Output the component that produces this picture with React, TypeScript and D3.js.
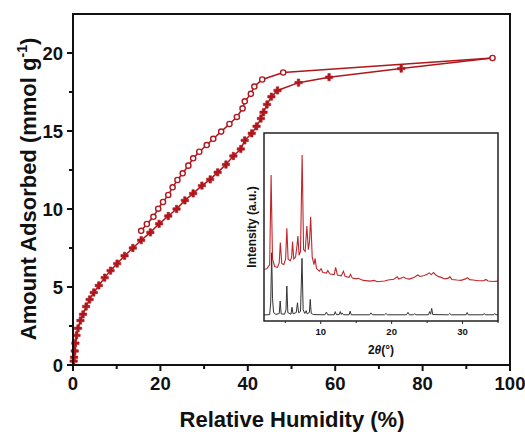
import React from "react";
import * as d3 from "d3";

// ---- Water sorption isotherm ----
const adsRH = [0.15, 0.25, 0.4, 0.55, 0.8, 1.15, 1.7, 2.3, 3.0, 3.8, 4.75, 5.9, 7.25, 8.6, 10.1, 11.8, 13.7, 15.6, 17.7, 19.7, 21.8, 23.7, 25.6, 27.5, 29.5, 31.4, 33.1, 35.0, 36.7, 38.4, 39.3, 40.9, 42.0, 43.0, 43.6, 44.4, 45.4, 46.8, 51.6, 58.6, 75.1, 96.0];
const adsAmt = [0.25, 0.5, 0.9, 1.4, 1.9, 2.35, 2.85, 3.25, 3.75, 4.2, 4.65, 5.1, 5.6, 6.05, 6.5, 7.0, 7.5, 8.0, 8.5, 9.05, 9.55, 10.0, 10.55, 11.0, 11.5, 11.9, 12.35, 12.85, 13.4, 13.85, 14.4, 14.85, 15.3, 15.8, 16.2, 16.7, 17.2, 17.6, 18.1, 18.45, 19.0, 19.68];

const desRH = [96.0, 48.1, 43.3, 41.5, 40.7, 39.3, 38.8, 37.5, 35.8, 33.9, 32.1, 30.6, 28.9, 27.5, 26.4, 25.1, 23.9, 22.8, 21.8, 20.6, 19.5, 18.4, 16.9, 15.6];
const desAmt = [19.68, 18.75, 18.3, 17.85, 17.38, 16.9, 16.45, 15.9, 15.45, 14.96, 14.5, 14.1, 13.67, 13.25, 12.78, 12.29, 11.86, 11.39, 10.9, 10.45, 10.02, 9.5, 9.04, 8.6];

const xTicks = [0, 20, 40, 60, 80, 100];
const xMinor = [10, 30, 50, 70, 90];
const yTicks = [0, 5, 10, 15, 20];
const yMinor = [2.5, 7.5, 12.5, 17.5];

// ---- Inset PXRD ----
const redTheta = [2.0, 2.4, 2.8, 3.0, 3.2, 3.5, 3.9, 4.15, 4.3, 4.5, 4.8, 5.05, 5.22, 5.4, 5.7, 5.9, 6.02, 6.2, 6.45, 6.65, 6.78, 6.95, 7.15, 7.38, 7.58, 7.8, 7.95, 8.05, 8.25, 8.42, 8.58, 8.8, 9.05, 9.2, 9.4, 9.8, 10.05, 10.3, 10.8, 11.0, 11.3, 11.9, 12.1, 12.35, 12.9, 13.2, 13.45, 14.0, 14.2, 14.45, 15.0, 15.3, 16.0, 17.0, 17.5, 18.0, 19.0, 19.5, 20.3, 20.8, 21.0, 21.7, 22.0, 22.5, 23.2, 23.7, 24.0, 24.6, 25.0, 25.3, 25.6, 25.9, 26.2, 26.6, 27.0, 27.5, 28.0, 28.2, 28.5, 29.2, 29.8, 30.4, 30.7, 31.0, 31.5, 32.2, 33.0, 33.3, 33.6, 34.3, 35.0];
const redInt = [27.5, 27.8, 30, 77.7, 33, 29, 28.5, 31, 41.7, 30.5, 30, 33, 49.3, 33, 32, 34, 42.2, 33, 34, 40, 45.2, 35, 37, 88.3, 38, 37, 45, 50.5, 38, 42, 55.5, 34, 30, 33.3, 28, 26.5, 27.8, 25.8, 25.5, 26.8, 25, 24.7, 28.5, 24.5, 24, 26.5, 23.6, 23.2, 24.8, 22.8, 22.4, 22.7, 21.6, 21.2, 21.6, 20.9, 21.3, 21.8, 22.2, 23.5, 22.3, 23.4, 22.6, 22.3, 23.3, 24.5, 23.7, 24.2, 24.8, 25.6, 24.7, 25.8, 24.6, 23.6, 23.2, 22.4, 22.8, 23.6, 22.1, 21.8, 21.6, 22.4, 23.1, 22.0, 21.8, 21.4, 21.5, 22.1, 21.3, 21.0, 21.2];

const blackTheta = [2.0, 2.8, 2.95, 3.08, 3.2, 3.35, 3.7, 4.15, 4.28, 4.42, 4.9, 5.1, 5.22, 5.36, 5.8, 5.95, 6.1, 6.55, 6.72, 6.88, 7.15, 7.36, 7.52, 7.75, 7.95, 8.08, 8.4, 8.52, 8.66, 9.0, 10.6, 10.8, 11.0, 11.9, 12.05, 12.2, 12.6, 12.75, 12.9, 13.0, 13.2, 14.0, 14.15, 14.3, 16.9, 17.1, 17.3, 19.0, 19.2, 19.4, 22.1, 22.3, 22.5, 23.1, 23.25, 23.4, 25.2, 25.35, 25.5, 25.65, 25.8, 28.0, 28.2, 28.4, 30.5, 30.65, 30.8, 32.9, 33.05, 33.2, 34.4, 34.55, 34.7, 35.0];
const blackInt = [3.2, 3.4, 10, 36.3, 12, 4.5, 3.5, 4, 10.6, 3.8, 3.6, 6, 18.6, 4.5, 3.6, 7.3, 3.8, 4.5, 9.7, 4.4, 5, 33.3, 6, 4, 5.5, 3.8, 4.5, 11.5, 4, 3.4, 3.3, 4.7, 3.3, 3.3, 5.0, 3.4, 3.4, 5, 3.5, 4.3, 3.3, 3.3, 5.2, 3.3, 3.3, 4.3, 3.3, 3.3, 4.0, 3.3, 3.3, 4.6, 3.3, 3.3, 3.9, 3.3, 3.3, 5, 3.6, 6.7, 3.4, 3.3, 4.0, 3.3, 3.3, 4.5, 3.3, 3.3, 4.0, 3.3, 3.3, 4.0, 3.3, 3.3];

const insetTicks = [10, 20, 30];
const insetMinor = [5, 15, 25, 35];

const RED = "#b0161c";
const FONT = "'Liberation Sans', Arial, sans-serif";

export default function App() {
  const x = d3.scaleLinear().domain([0, 100]).range([73, 510]);
  const y = d3.scaleLinear().domain([0, 22.5]).range([365, 14]);

  const ix = d3.scaleLinear().domain([2, 35]).range([264, 498]);
  const iy = d3.scaleLinear().domain([0, 100]).range([321, 133]);

  const line = d3.line<[number, number]>().x((d) => x(d[0])).y((d) => y(d[1]));
  const ads: [number, number][] = adsRH.map((r, i) => [r, adsAmt[i]]);
  const des: [number, number][] = desRH.map((r, i) => [r, desAmt[i]]);

  const iline = d3.line<[number, number]>().x((d) => ix(d[0])).y((d) => iy(d[1]));
  const red: [number, number][] = redTheta.map((t, i) => [t, redInt[i]]);
  const black: [number, number][] = blackTheta.map((t, i) => [t, blackInt[i]]);

  const cross = d3.symbol().type(d3.symbolCross).size(30)()!;

  return (
    <svg width={525} height={432} style={{ position: "absolute", left: 0, top: 0, background: "#fff" }} fontFamily={FONT}>
      <rect width={525} height={432} fill="#fff" />
      {/* main curves */}
      <path d={line(ads)!} fill="none" stroke={RED} strokeWidth={1.5} />
      <path d={line(des)!} fill="none" stroke={RED} strokeWidth={1.5} />
      {ads.slice(0, ads.length - 1).map((d, i) => (
        <path key={"a" + i} d={cross} transform={`translate(${x(d[0])},${y(d[1])})`} fill={RED} stroke={RED} strokeWidth={0.6} />
      ))}
      {des.map((d, i) => (
        <circle key={"d" + i} cx={x(d[0])} cy={y(d[1])} r={2.6} fill="#fff" stroke={RED} strokeWidth={1.4} />
      ))}

      {/* main frame */}
      <rect x={73} y={14} width={437} height={351} fill="none" stroke="#111" strokeWidth={2} />
      {xTicks.map((t) => (
        <g key={"xt" + t}>
          <line x1={x(t)} x2={x(t)} y1={365} y2={371} stroke="#111" strokeWidth={2} />
          <text x={x(t)} y={390} textAnchor="middle" fontSize={18.5} fontWeight="bold" fill="#111">{t}</text>
        </g>
      ))}
      {xMinor.map((t) => (
        <line key={"xm" + t} x1={x(t)} x2={x(t)} y1={365} y2={369} stroke="#111" strokeWidth={2} />
      ))}
      {yTicks.map((t) => (
        <g key={"yt" + t}>
          <line x1={73} x2={67} y1={y(t)} y2={y(t)} stroke="#111" strokeWidth={2} />
          <text x={63} y={y(t) + 6.5} textAnchor="end" fontSize={18.5} fontWeight="bold" fill="#111">{t}</text>
        </g>
      ))}
      {yMinor.map((t) => (
        <line key={"ym" + t} x1={73} x2={69} y1={y(t)} y2={y(t)} stroke="#111" strokeWidth={2} />
      ))}
      <text x={292} y={427} textAnchor="middle" fontSize={22} fontWeight="bold" fill="#111">Relative Humidity (%)</text>
      <text transform="translate(36,189) rotate(-90)" textAnchor="middle" fontSize={22} fontWeight="bold" fill="#111">
        Amount Adsorbed (mmol g<tspan fontSize={14} dy={-9}>-1</tspan><tspan dy={9}>)</tspan>
      </text>

      {/* inset */}
      <rect x={264} y={133} width={234} height={188} fill="#fff" />
      <path d={iline(black)!} fill="none" stroke="#333" strokeWidth={1} />
      <path d={iline(red)!} fill="none" stroke="#c0262c" strokeWidth={1.1} />
      <rect x={264} y={133} width={234} height={188} fill="none" stroke="#222" strokeWidth={1.5} />
      {insetTicks.map((t) => (
        <g key={"it" + t}>
          <line x1={ix(t)} x2={ix(t)} y1={321} y2={324} stroke="#222" strokeWidth={1} />
          <text x={ix(t)} y={335} textAnchor="middle" fontSize={9.5} fontWeight="bold" fill="#111">{t}</text>
        </g>
      ))}
      {insetMinor.map((t) => (
        <line key={"im" + t} x1={ix(t)} x2={ix(t)} y1={321} y2={323} stroke="#222" strokeWidth={1} />
      ))}
      <text x={381} y={354} textAnchor="middle" fontSize={12} fontWeight="bold" fill="#111">
        2<tspan fontStyle="italic">θ</tspan>(°)
      </text>
      <text transform="translate(256,227) rotate(-90)" textAnchor="middle" fontSize={12} fontWeight="bold" fill="#111">Intensity (a.u.)</text>
    </svg>
  );
}
